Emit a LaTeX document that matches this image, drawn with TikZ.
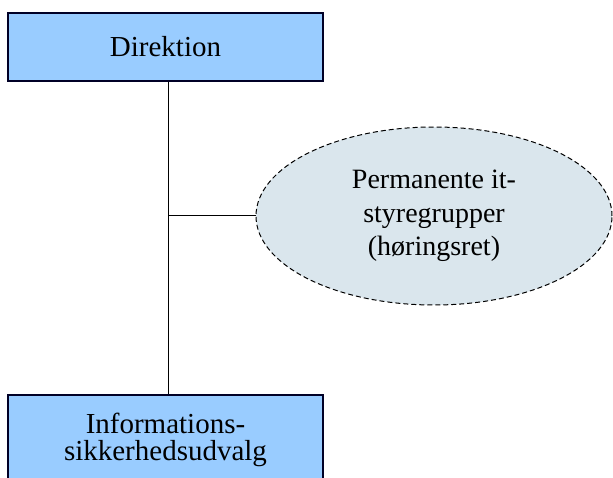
\documentclass[tikz,border=0pt]{standalone}
\usepackage{fontspec}
\setmainfont{Liberation Serif}
\usetikzlibrary{shapes.geometric,calc}
\definecolor{boxblue}{RGB}{153,204,255}
\definecolor{ovalfill}{RGB}{218,230,237}
\begin{document}
\begin{tikzpicture}[x=1pt,y=1pt,
	unitbox/.style={draw=black!85!blue,line width=1.3pt,fill=boxblue,
		minimum width=315pt,inner sep=0pt,align=center,
		font=\fontsize{29}{27}\selectfont},
	groupoval/.style={ellipse,draw,dashed,dash pattern=on 5pt off 3pt,
		line width=1pt,fill=ovalfill,minimum width=356pt,minimum height=178pt,
		inner sep=0pt,align=center,font=\fontsize{28}{31.5}\selectfont}]
		\useasboundingbox (0,0) rectangle (613,477);
		\clip (0,0) rectangle (613,477);
		\node[unitbox,minimum height=68pt] (dir) at (165.5,430) {Direktion};
		\node[unitbox,minimum height=90pt] (info) at (165.5,37)
		{Informations-\\sikkerhedsudvalg};
		\node[groupoval] (perm) at (434,261)
		{Permanente it-\\[2pt]styregrupper\\[2pt](høringsret)};
		\path ($(dir.south)+(2.5,0)$) coordinate (T)
		(T |- perm.west) coordinate (J);
		\draw[line width=1pt] (T) -- (T |- info.north);
		\draw[line width=1pt] (J) -- (perm.west);
		
	\end{tikzpicture}
\end{document}
